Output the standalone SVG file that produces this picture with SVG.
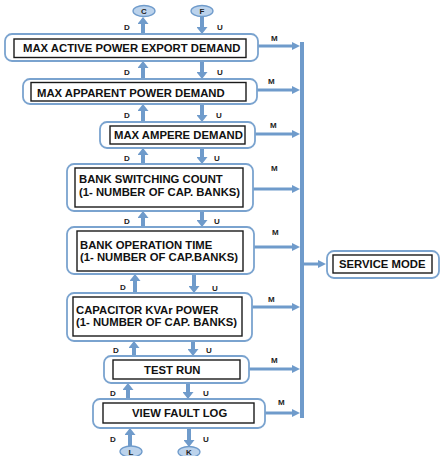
<svg xmlns="http://www.w3.org/2000/svg" width="440" height="456" viewBox="0 0 440 456">
<defs>
<style>
.ob{fill:#fff;stroke:#7aa3cf;stroke-width:1.8}
.ib{fill:#fff;stroke:#1a1a1a;stroke-width:1.4}
.t{font-family:"Liberation Sans",Arial,sans-serif;font-weight:bold;font-size:11.3px;fill:#111}
.l{font-family:"Liberation Sans",Arial,sans-serif;font-weight:bold;font-size:8px;fill:#222}
.v{stroke:#6f9bcb;stroke-width:4;fill:none}
.h{stroke:#6f9bcb;stroke-width:3;fill:none}
.el{fill:#bcd3ec;stroke:#6f9bcb;stroke-width:1.3}
</style>
<marker id="av" markerWidth="7" markerHeight="11" refX="0" refY="5.5" orient="auto" markerUnits="userSpaceOnUse"><path d="M0,0 L7,5.5 L0,11 z" fill="#6f9bcb"/></marker>
<marker id="ah" markerWidth="8" markerHeight="8" refX="0" refY="4" orient="auto" markerUnits="userSpaceOnUse"><path d="M0,0 L8,4 L0,8 z" fill="#6f9bcb"/></marker>
</defs>
<rect width="440" height="456" fill="#fff"/>
<g id="connectors">
<line class="v" x1="302" y1="42" x2="302" y2="418"/>
<line class="v" x1="143" y1="34" x2="143" y2="24" marker-end="url(#av)"/>
<line class="v" x1="202" y1="17" x2="202" y2="27" marker-end="url(#av)"/>
<line class="v" x1="143" y1="79" x2="143" y2="68" marker-end="url(#av)"/>
<line class="v" x1="202" y1="61" x2="202" y2="72" marker-end="url(#av)"/>
<line class="v" x1="143" y1="122" x2="143" y2="111" marker-end="url(#av)"/>
<line class="v" x1="202" y1="104" x2="202" y2="115" marker-end="url(#av)"/>
<line class="v" x1="143" y1="164" x2="143" y2="155" marker-end="url(#av)"/>
<line class="v" x1="202" y1="148" x2="202" y2="157" marker-end="url(#av)"/>
<line class="v" x1="143" y1="227" x2="143" y2="218" marker-end="url(#av)"/>
<line class="v" x1="202" y1="211" x2="202" y2="220" marker-end="url(#av)"/>
<line class="v" x1="135" y1="293" x2="135" y2="281" marker-end="url(#av)"/>
<line class="v" x1="194" y1="274" x2="194" y2="286" marker-end="url(#av)"/>
<line class="v" x1="134" y1="356" x2="134" y2="348" marker-end="url(#av)"/>
<line class="v" x1="193" y1="341" x2="193" y2="349" marker-end="url(#av)"/>
<line class="v" x1="128" y1="399" x2="128" y2="390" marker-end="url(#av)"/>
<line class="v" x1="188" y1="383" x2="188" y2="392" marker-end="url(#av)"/>
<line class="v" x1="130" y1="446" x2="130" y2="435" marker-end="url(#av)"/>
<line class="v" x1="189" y1="428" x2="189" y2="440" marker-end="url(#av)"/>
<line class="h" x1="258" y1="46" x2="292" y2="46" marker-end="url(#ah)"/>
<line class="h" x1="257" y1="90" x2="292" y2="90" marker-end="url(#ah)"/>
<line class="h" x1="255" y1="134" x2="292" y2="134" marker-end="url(#ah)"/>
<line class="h" x1="253" y1="189" x2="292" y2="189" marker-end="url(#ah)"/>
<line class="h" x1="254" y1="247" x2="292" y2="247" marker-end="url(#ah)"/>
<line class="h" x1="252" y1="307" x2="292" y2="307" marker-end="url(#ah)"/>
<line class="h" x1="249" y1="369" x2="292" y2="369" marker-end="url(#ah)"/>
<line class="h" x1="265" y1="413" x2="292" y2="413" marker-end="url(#ah)"/>
<line class="h" x1="304" y1="264" x2="318" y2="264" marker-end="url(#ah)"/>
<text class="l" x="124" y="29.5">D</text><text class="l" x="217" y="29.5">U</text>
<text class="l" x="124" y="75">D</text><text class="l" x="217" y="75">U</text>
<text class="l" x="124" y="118">D</text><text class="l" x="216" y="118">U</text>
<text class="l" x="124" y="161">D</text><text class="l" x="214" y="161">U</text>
<text class="l" x="124" y="223.5">D</text><text class="l" x="214" y="224">U</text>
<text class="l" x="120" y="290">D</text><text class="l" x="212" y="290.5">U</text>
<text class="l" x="113" y="353">D</text><text class="l" x="206" y="353">U</text>
<text class="l" x="110" y="396">D</text><text class="l" x="203" y="396">U</text>
<text class="l" x="110" y="441.5">D</text><text class="l" x="203" y="441.5">U</text>
<text class="l" x="271" y="40.5">M</text>
<text class="l" x="268" y="84">M</text>
<text class="l" x="270" y="127.5">M</text>
<text class="l" x="271" y="171">M</text>
<text class="l" x="272" y="235">M</text>
<text class="l" x="268" y="301.5">M</text>
<text class="l" x="271" y="363">M</text>
<text class="l" x="278" y="405">M</text>
</g>
<g id="C"><ellipse class="el" cx="144" cy="11" rx="11" ry="5.5"/><text class="l" x="144" y="14" text-anchor="middle">C</text></g>
<g id="F"><ellipse class="el" cx="202" cy="11" rx="11" ry="5.5"/><text class="l" x="202" y="14" text-anchor="middle">F</text></g>
<g id="L"><ellipse class="el" cx="131" cy="451.5" rx="11" ry="5.5"/><text class="l" x="131" y="454.5" text-anchor="middle">L</text></g>
<g id="K"><ellipse class="el" cx="189" cy="452" rx="11" ry="5.5"/><text class="l" x="189" y="455" text-anchor="middle">K</text></g>
<g id="n1"><rect class="ob" x="5" y="34" width="253" height="27" rx="7"/><rect class="ib" x="14" y="39" width="232" height="18.5"/><text class="t" x="23" y="52.3">MAX ACTIVE POWER EXPORT DEMAND</text></g>
<g id="n2"><rect class="ob" x="23" y="79" width="234" height="25" rx="7"/><rect class="ib" x="31" y="82.5" width="215" height="18.5"/><text class="t" x="37" y="96.5">MAX APPARENT POWER DEMAND</text></g>
<g id="n3"><rect class="ob" x="100" y="122" width="155" height="26" rx="7"/><rect class="ib" x="110" y="126" width="135" height="18"/><text class="t" x="114" y="139.3">MAX AMPERE DEMAND</text></g>
<g id="n4"><rect class="ob" x="67" y="164" width="186" height="47" rx="7"/><rect class="ib" x="75" y="168" width="168" height="39"/><text class="t" x="79" y="183.3">BANK SWITCHING COUNT</text><text class="t" x="79" y="195.5">(1- NUMBER OF CAP. BANKS)</text></g>
<g id="n5"><rect class="ob" x="67" y="227" width="187" height="47" rx="7"/><rect class="ib" x="77" y="231" width="166" height="40"/><text class="t" x="80" y="249.3">BANK OPERATION TIME</text><text class="t" x="80" y="260.5">(1- NUMBER OF CAP.BANKS)</text></g>
<g id="n6"><rect class="ob" x="67" y="293" width="185" height="48" rx="7"/><rect class="ib" x="73" y="297" width="169" height="39"/><text class="t" x="76" y="314.3">CAPACITOR KVAr POWER</text><text class="t" x="76" y="326">(1- NUMBER OF CAP. BANKS)</text></g>
<g id="n7"><rect class="ob" x="104" y="356" width="145" height="27" rx="7"/><rect class="ib" x="113" y="360" width="127" height="19"/><text class="t" x="144" y="374.3">TEST RUN</text></g>
<g id="n8"><rect class="ob" x="93" y="399" width="172" height="29" rx="7"/><rect class="ib" x="103" y="403" width="151" height="20"/><text class="t" x="132" y="417.3">VIEW FAULT LOG</text></g>
<g id="service"><rect class="ob" x="327" y="251" width="112" height="27" rx="7"/><rect class="ib" x="333" y="255" width="99" height="18"/><text class="t" x="339" y="268.3">SERVICE MODE</text></g>
</svg>
